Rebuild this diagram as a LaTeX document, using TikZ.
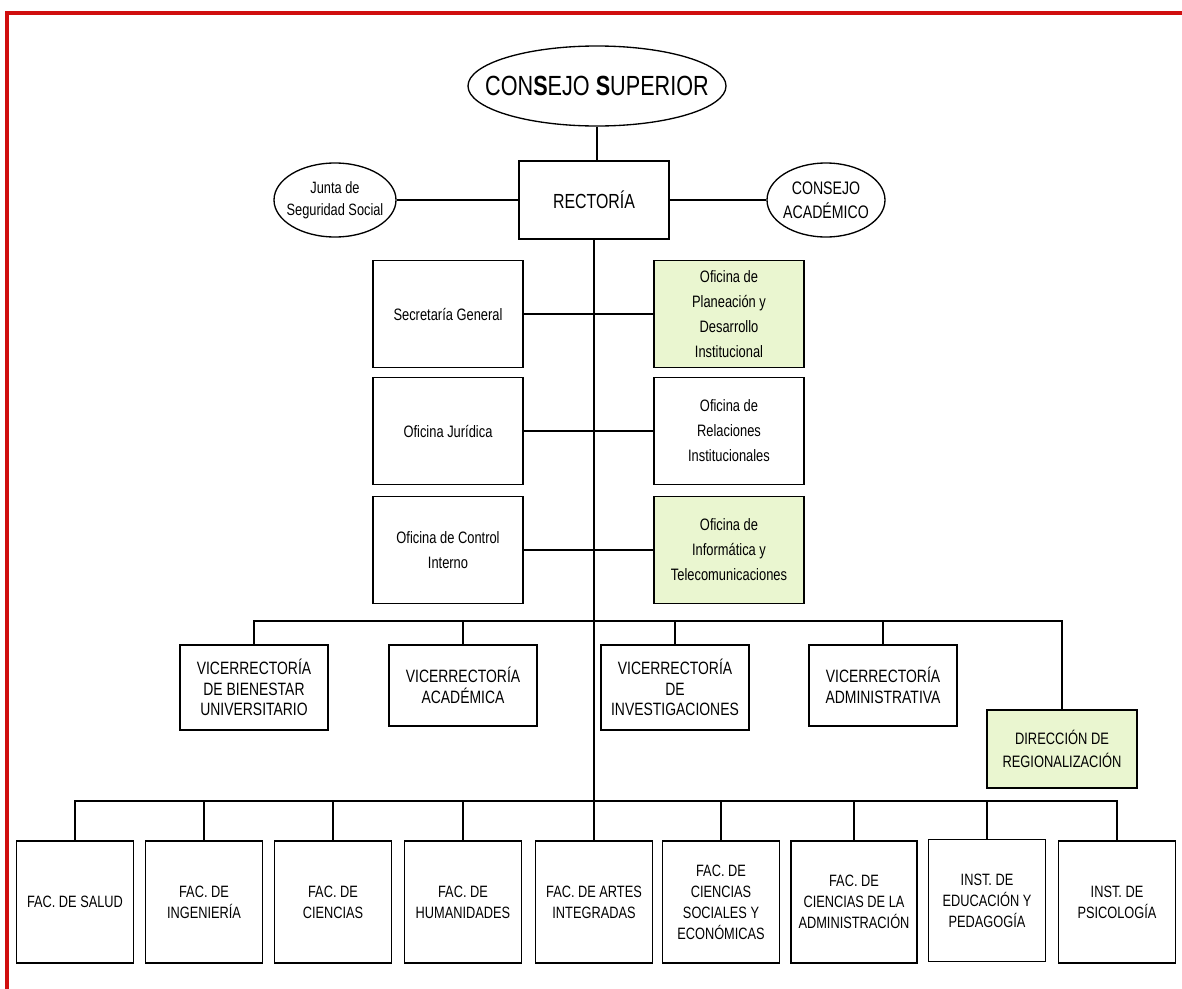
\documentclass[tikz,border=0pt]{standalone}
\usepackage{fontspec}
\setmainfont{Liberation Sans}[FakeStretch=0.78]
\usetikzlibrary{shapes.geometric}
\definecolor{planGreen}{RGB}{234,246,208}
\definecolor{frameRed}{RGB}{208,14,14}

\tikzset{
  unitbox/.style={draw,line width=1.45pt,fill=white,inner sep=1pt,align=center},
  councilell/.style={ellipse,draw,line width=1pt,fill=white,inner ysep=0pt,inner xsep=-8pt,align=center},
  officebox/.style={unitbox,minimum width=112.5pt,minimum height=80.25pt,
    font=\fontsize{12.4}{18.75}\selectfont},
  vicebox/.style={unitbox,minimum width=111pt,minimum height=63.75pt,
    font=\fontsize{13.4}{15.5}\selectfont},
  facbox/.style={unitbox,minimum width=87.75pt,minimum height=91.5pt,
    font=\fontsize{12.3}{15.75}\selectfont},
  link/.style={line width=1.1pt}
}

\begin{document}
\begin{tikzpicture}[x=0.75pt,y=0.75pt,yscale=-1,xscale=1]
            \useasboundingbox (0,0) rectangle (1182,989);
            \fill[white] (0,0) rectangle (1182,989);
            \draw [color=frameRed,line width=3.4pt] (5,13) -- (1182,13) ;
            \draw [color=frameRed,line width=2.6pt] (7,11) -- (7,989) ;

            \draw (597,86) node (cs) [councilell,inner xsep=-16pt,minimum width=193.5pt,minimum height=60pt,font=\fontsize{20.8}{22}\selectfont] {CON\textbf{S}EJO \textbf{S}UPERIOR};
            \draw (594,200) node (rect) [unitbox,minimum width=112.5pt,minimum height=58.5pt,font=\fontsize{15.3}{18}\selectfont] {RECTORÍA};
            \draw (335,200) node (junta) [councilell,minimum width=91.5pt,minimum height=55.5pt,font=\fontsize{12.3}{16.5}\selectfont] {Junta de\\Seguridad Social};
            \draw (826,200) node (cacad) [councilell,minimum width=88.5pt,minimum height=55.5pt,font=\fontsize{13.6}{18}\selectfont] {CONSEJO\\ACADÉMICO};

            \draw (448,314) node (sec) [officebox] {Secretaría General};
            \draw (448,431) node (jur) [officebox] {Oficina Jurídica};
            \draw (448,550) node (ctrl) [officebox] {Oficina de Control\\Interno};
            \draw (729,314) node (plan) [officebox,fill=planGreen] {Oficina de\\Planeación y\\Desarrollo\\Institucional};
            \draw (729,431) node (rel) [officebox] {Oficina de\\Relaciones\\Institucionales};
            \draw (729,550) node (info) [officebox,fill=planGreen] {Oficina de\\Informática y\\Telecomunicaciones};

            \draw (254,687.5) node (v1) [vicebox] {VICERRECTORÍA\\DE BIENESTAR\\UNIVERSITARIO};
            \draw (463,685.5) node (v2) [vicebox,minimum height=60.75pt] {VICERRECTORÍA\\ACADÉMICA};
            \draw (675,687.5) node (v3) [vicebox] {VICERRECTORÍA\\DE\\INVESTIGACIONES};
            \draw (883,685.5) node (v4) [vicebox,minimum height=60.75pt] {VICERRECTORÍA\\ADMINISTRATIVA};
            \draw (1062,749) node (dir) [vicebox,minimum width=112.5pt,minimum height=58.5pt,fill=planGreen,font=\fontsize{12.4}{17}\selectfont] {DIRECCIÓN DE\\REGIONALIZACIÓN};

            \draw (75,902) node (f1) [facbox] {FAC. DE SALUD};
            \draw (204,902) node (f2) [facbox] {FAC. DE\\INGENIERÍA};
            \draw (333,902) node (f3) [facbox] {FAC. DE\\CIENCIAS};
            \draw (463,902) node (f4) [facbox] {FAC. DE\\HUMANIDADES};
            \draw (594,902) node (f5) [facbox] {FAC. DE ARTES\\INTEGRADAS};
            \draw (721,902) node (f6) [facbox] {FAC. DE\\CIENCIAS\\SOCIALES Y\\ECONÓMICAS};
            \draw (854,902) node (f7) [facbox,minimum width=94.5pt] {FAC. DE\\CIENCIAS DE LA\\ADMINISTRACIÓN};
            \draw (987,900.5) node (f8) [facbox] {INST. DE\\EDUCACIÓN Y\\PEDAGOGÍA};
            \draw (1117,902) node (f9) [facbox] {INST. DE\\PSICOLOGÍA};

            \coordinate (vbus) at (0,621);
            \coordinate (fbus) at (0,801);

            \draw [link] (cs) -- (cs |- rect.north) ;
            \draw [link] (junta) -- (rect) ;
            \draw [link] (rect) -- (cacad) ;
            \draw [link] (rect.south) -- (f5.north) ;
            \draw [link] (sec) -- (plan) ;
            \draw [link] (jur) -- (rel) ;
            \draw [link] (ctrl) -- (info) ;
            \draw [link] (v1.north) |- (vbus -| dir) -- (dir.north) ;
            \foreach \v in {v2,v3,v4}
              \draw [link] (\v.north) -- (\v.north |- vbus) ;
            \draw [link] (f1.north) |- (fbus -| f9) -- (f9.north) ;
            \foreach \f in {f2,f3,f4,f6,f7,f8}
              \draw [link] (\f.north) -- (\f.north |- fbus) ;
        \end{tikzpicture}
\end{document}
